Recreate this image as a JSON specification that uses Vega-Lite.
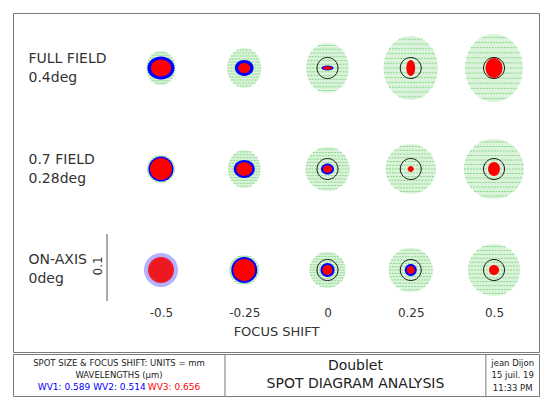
{
  "$schema": "https://vega.github.io/schema/vega-lite/v6.json",
  "padding": {"left": 12, "top": 12, "right": 12, "bottom": 6},
  "background": "white",
  "spacing": 0,
  "config": {
    "view": {"stroke": "#7a7a7a", "strokeWidth": 1},
    "font": "DejaVu Sans",
    "axis": {"grid": false, "domain": false, "ticks": false, "tickSize": 0}
  },
  "datasets": {
    "spots": [
      {"field_idx": 2, "shift": -0.5, "wl": "WV1", "r_um": 25.5, "form": "tall", "density": 1},
      {"field_idx": 2, "shift": -0.5, "wl": "WV2", "r_um": 20.3, "form": "wide", "density": 1},
      {"field_idx": 2, "shift": -0.5, "wl": "WV3", "r_um": 15, "form": "wide", "density": 1},
      {"field_idx": 2, "shift": -0.25, "wl": "WV1", "r_um": 30, "form": "tall", "density": 1},
      {"field_idx": 2, "shift": -0.25, "wl": "WV2", "r_um": 14, "form": "wide", "density": 1},
      {"field_idx": 2, "shift": -0.25, "wl": "WV3", "r_um": 9, "form": "wide", "density": 1},
      {"field_idx": 2, "shift": 0, "wl": "WV1", "r_um": 37.5, "form": "tall", "density": 1},
      {"field_idx": 2, "shift": 0, "wl": "WV2", "r_um": 9, "form": "flat", "density": 1},
      {"field_idx": 2, "shift": 0, "wl": "WV3", "r_um": 6.8, "form": "flat", "density": 1},
      {"field_idx": 2, "shift": 0.25, "wl": "WV1", "r_um": 48, "form": "tall", "density": 1},
      {"field_idx": 2, "shift": 0.25, "wl": "WV3", "r_um": 12, "form": "narrow", "density": 1},
      {"field_idx": 2, "shift": 0.5, "wl": "WV1", "r_um": 51, "form": "tall", "density": 1},
      {"field_idx": 2, "shift": 0.5, "wl": "WV3", "r_um": 15, "form": "tall", "density": 1},
      {"field_idx": 1, "shift": -0.5, "wl": "WV1", "r_um": 21, "form": "round", "density": 1},
      {"field_idx": 1, "shift": -0.5, "wl": "WV2", "r_um": 18.8, "form": "round", "density": 1},
      {"field_idx": 1, "shift": -0.5, "wl": "WV3", "r_um": 16.5, "form": "round", "density": 1},
      {"field_idx": 1, "shift": -0.25, "wl": "WV1", "r_um": 28.5, "form": "tall", "density": 1},
      {"field_idx": 1, "shift": -0.25, "wl": "WV2", "r_um": 15.8, "form": "wide", "density": 1},
      {"field_idx": 1, "shift": -0.25, "wl": "WV3", "r_um": 12, "form": "wide", "density": 1},
      {"field_idx": 1, "shift": 0, "wl": "WV1", "r_um": 33, "form": "round", "density": 1},
      {"field_idx": 1, "shift": 0, "wl": "WV2", "r_um": 9.8, "form": "wide", "density": 1},
      {"field_idx": 1, "shift": 0, "wl": "WV3", "r_um": 6.8, "form": "wide", "density": 1},
      {"field_idx": 1, "shift": 0.25, "wl": "WV1", "r_um": 37.5, "form": "round", "density": 1},
      {"field_idx": 1, "shift": 0.25, "wl": "WV3", "r_um": 4.5, "form": "round", "density": 1},
      {"field_idx": 1, "shift": 0.5, "wl": "WV1", "r_um": 45, "form": "round", "density": 1},
      {"field_idx": 1, "shift": 0.5, "wl": "WV3", "r_um": 10.5, "form": "tall", "density": 1},
      {"field_idx": 0, "shift": -0.5, "wl": "WV1", "r_um": 16.5, "form": "round", "density": 1},
      {"field_idx": 0, "shift": -0.5, "wl": "WV2", "r_um": 25.5, "form": "round", "density": 0.3},
      {"field_idx": 0, "shift": -0.5, "wl": "WV3", "r_um": 19.5, "form": "round", "density": 0.85},
      {"field_idx": 0, "shift": -0.25, "wl": "WV1", "r_um": 22.5, "form": "round", "density": 1},
      {"field_idx": 0, "shift": -0.25, "wl": "WV2", "r_um": 19.5, "form": "round", "density": 1},
      {"field_idx": 0, "shift": -0.25, "wl": "WV3", "r_um": 16.5, "form": "round", "density": 1},
      {"field_idx": 0, "shift": 0, "wl": "WV1", "r_um": 27, "form": "round", "density": 1},
      {"field_idx": 0, "shift": 0, "wl": "WV2", "r_um": 10.5, "form": "round", "density": 1},
      {"field_idx": 0, "shift": 0, "wl": "WV3", "r_um": 7.5, "form": "round", "density": 1},
      {"field_idx": 0, "shift": 0.25, "wl": "WV1", "r_um": 33, "form": "round", "density": 1},
      {"field_idx": 0, "shift": 0.25, "wl": "WV2", "r_um": 9, "form": "round", "density": 1},
      {"field_idx": 0, "shift": 0.25, "wl": "WV3", "r_um": 6, "form": "round", "density": 1},
      {"field_idx": 0, "shift": 0.5, "wl": "WV1", "r_um": 39, "form": "round", "density": 1},
      {"field_idx": 0, "shift": 0.5, "wl": "WV3", "r_um": 7.5, "form": "round", "density": 1}
    ],
    "cells": [
      {"field_idx": 2, "shift": 0}, {"field_idx": 2, "shift": 0.25}, {"field_idx": 2, "shift": 0.5},
      {"field_idx": 1, "shift": 0}, {"field_idx": 1, "shift": 0.25}, {"field_idx": 1, "shift": 0.5},
      {"field_idx": 0, "shift": 0}, {"field_idx": 0, "shift": 0.25}, {"field_idx": 0, "shift": 0.5}
    ],
    "scalebar": [
      {"shift": -0.662, "field_idx": 0.356, "field_idx2": -0.307, "label": "0.1", "label_shift": -0.689, "label_idx": 0.04}
    ],
    "dividers": [{"xpos": 0.403}, {"xpos": 0.899}],
    "labels": [
      {"kind": "note", "cx": 0.2015, "cy": 0.214, "text": "SPOT SIZE & FOCUS SHIFT: UNITS = mm", "wl": "none"},
      {"kind": "note", "cx": 0.2015, "cy": 0.5, "text": "WAVELENGTHS (µm)", "wl": "none"},
      {"kind": "wv", "cx": 0.097, "cy": 0.786, "text": "WV1: 0.589", "wl": "WV1"},
      {"kind": "wv", "cx": 0.2023, "cy": 0.786, "text": "WV2: 0.514", "wl": "WV2"},
      {"kind": "wv", "cx": 0.306, "cy": 0.786, "text": "WV3: 0.656", "wl": "WV3"},
      {"kind": "title", "cx": 0.651, "cy": 0.286, "text": "Doublet", "wl": "none"},
      {"kind": "title", "cx": 0.651, "cy": 0.714, "text": "SPOT DIAGRAM ANALYSIS", "wl": "none"},
      {"kind": "note", "cx": 0.95, "cy": 0.214, "text": "jean Dijon", "wl": "none"},
      {"kind": "note", "cx": 0.95, "cy": 0.5, "text": "15 juil. 19", "wl": "none"},
      {"kind": "note", "cx": 0.95, "cy": 0.81, "text": "11:33 PM", "wl": "none"}
    ]
  },
  "vconcat": [
    {
      "width": 526,
      "height": 339,
      "encoding": {
        "x": {
          "field": "shift", "type": "quantitative",
          "scale": {"domain": [-0.9444, 0.6351], "nice": false, "zero": false},
          "axis": {
            "values": [-0.5, -0.25, 0, 0.25, 0.5],
            "labelExpr": "(datum.value < 0 ? '-' : '') + format(abs(datum.value), '~g')",
            "offset": -45, "labelPadding": 0, "labelFontSize": 12, "labelColor": "#333",
            "labelFlush": false, "labelOverlap": false,
            "title": "FOCUS SHIFT", "titleFontSize": 13, "titleFontWeight": "normal", "titleColor": "#333", "titlePadding": 7
          }
        },
        "y": {
          "field": "field_idx", "type": "quantitative",
          "scale": {"domain": [-0.8119, 2.5446], "nice": false, "zero": false},
          "axis": {
            "values": [0, 1, 2],
            "labelExpr": "datum.value == 2 ? ['FULL FIELD', '0.4deg'] : datum.value == 1 ? ['0.7 FIELD', '0.28deg'] : ['ON-AXIS', '0deg']",
            "offset": -15, "labelAlign": "left", "labelBaseline": "middle", "labelPadding": 0, "labelOffset": -10,
            "labelFontSize": 14, "labelLineHeight": 19, "labelColor": "#333", "labelOverlap": false, "labelFlush": false,
            "title": null
          }
        }
      },
      "layer": [
        {
          "data": {"name": "spots"},
          "transform": [{"filter": "datum.wl == 'WV1'"}],
          "mark": {"type": "point", "filled": true, "color": "#d6f2d6", "opacity": 0.9, "strokeWidth": 0},
          "encoding": {
            "size": {"field": "r_um", "type": "quantitative", "scale": {"type": "pow", "exponent": 2, "domain": [0, 60], "range": [0, 6400]}, "legend": null},
            "shape": {"field": "form", "type": "nominal", "legend": null, "scale": {
              "domain": ["round", "tall", "wide", "narrow", "flat"],
              "range": [
                "M0,-1C0.552,-1 1,-0.552 1,0C1,0.552 0.552,1 0,1C-0.552,1 -1,0.552 -1,0C-1,-0.552 -0.552,-1 0,-1Z",
                "M0,-1C0.469,-1 0.85,-0.552 0.85,0C0.85,0.552 0.469,1 0,1C-0.469,1 -0.85,0.552 -0.85,0C-0.85,-0.552 -0.469,-1 0,-1Z",
                "M0,-0.85C0.552,-0.85 1,-0.469 1,0C1,0.469 0.552,0.85 0,0.85C-0.552,0.85 -1,0.469 -1,0C-1,-0.469 -0.552,-0.85 0,-0.85Z",
                "M0,-1C0.304,-1 0.55,-0.552 0.55,0C0.55,0.552 0.304,1 0,1C-0.304,1 -0.55,0.552 -0.55,0C-0.55,-0.552 -0.304,-1 0,-1Z",
                "M0,-0.4C0.552,-0.4 1,-0.221 1,0C1,0.221 0.552,0.4 0,0.4C-0.552,0.4 -1,0.221 -1,0C-1,-0.221 -0.552,-0.4 0,-0.4Z"
              ]}}
          }
        },
        {
          "data": {"name": "spots"},
          "transform": [{"filter": "datum.wl == 'WV1'"}],
          "mark": {"type": "point", "filled": false, "color": "#78d478", "opacity": 0.8, "strokeWidth": 1, "strokeDash": [2, 1]},
          "encoding": {
            "size": {"field": "r_um", "type": "quantitative", "scale": {"type": "pow", "exponent": 2, "domain": [0, 60], "range": [0, 6400]}, "legend": null},
            "shape": {"field": "form", "type": "nominal", "legend": null, "scale": {
              "domain": ["round", "tall"],
              "range": [
                "M-1,0L1,0M-0.989,-0.15L0.989,-0.15M-0.989,0.15L0.989,0.15M-0.954,-0.3L0.954,-0.3M-0.954,0.3L0.954,0.3M-0.893,-0.45L0.893,-0.45M-0.893,0.45L0.893,0.45M-0.8,-0.6L0.8,-0.6M-0.8,0.6L0.8,0.6M-0.661,-0.75L0.661,-0.75M-0.661,0.75L0.661,0.75M-0.436,-0.9L0.436,-0.9M-0.436,0.9L0.436,0.9",
                "M-0.85,0L0.85,0M-0.841,-0.15L0.841,-0.15M-0.841,0.15L0.841,0.15M-0.811,-0.3L0.811,-0.3M-0.811,0.3L0.811,0.3M-0.759,-0.45L0.759,-0.45M-0.759,0.45L0.759,0.45M-0.68,-0.6L0.68,-0.6M-0.68,0.6L0.68,0.6M-0.562,-0.75L0.562,-0.75M-0.562,0.75L0.562,0.75M-0.371,-0.9L0.371,-0.9M-0.371,0.9L0.371,0.9"
              ]}}
          }
        },
        {
          "data": {"name": "cells"},
          "mark": {"type": "point", "filled": false, "color": "#1a1a1a", "opacity": 1, "strokeWidth": 1, "size": 441,
            "shape": "M0,-1C0.552,-1 1,-0.552 1,0C1,0.552 0.552,1 0,1C-0.552,1 -1,0.552 -1,0C-1,-0.552 -0.552,-1 0,-1Z"},
          "encoding": {}
        },
        {
          "data": {"name": "spots"},
          "transform": [{"filter": "datum.wl != 'WV1'"}],
          "mark": {"type": "point", "filled": true, "strokeWidth": 0},
          "encoding": {
            "size": {"field": "r_um", "type": "quantitative", "scale": {"type": "pow", "exponent": 2, "domain": [0, 60], "range": [0, 6400]}, "legend": null},
            "shape": {"field": "form", "type": "nominal", "legend": null, "scale": {
              "domain": ["round", "tall", "wide", "narrow", "flat"],
              "range": [
                "M0,-1C0.552,-1 1,-0.552 1,0C1,0.552 0.552,1 0,1C-0.552,1 -1,0.552 -1,0C-1,-0.552 -0.552,-1 0,-1Z",
                "M0,-1C0.469,-1 0.85,-0.552 0.85,0C0.85,0.552 0.469,1 0,1C-0.469,1 -0.85,0.552 -0.85,0C-0.85,-0.552 -0.469,-1 0,-1Z",
                "M0,-0.85C0.552,-0.85 1,-0.469 1,0C1,0.469 0.552,0.85 0,0.85C-0.552,0.85 -1,0.469 -1,0C-1,-0.469 -0.552,-0.85 0,-0.85Z",
                "M0,-1C0.304,-1 0.55,-0.552 0.55,0C0.55,0.552 0.304,1 0,1C-0.304,1 -0.55,0.552 -0.55,0C-0.55,-0.552 -0.304,-1 0,-1Z",
                "M0,-0.4C0.552,-0.4 1,-0.221 1,0C1,0.221 0.552,0.4 0,0.4C-0.552,0.4 -1,0.221 -1,0C-1,-0.221 -0.552,-0.4 0,-0.4Z"
              ]}},
            "color": {"field": "wl", "type": "nominal", "scale": {"domain": ["WV2", "WV3"], "range": ["#0000ff", "#ff0000"]}, "legend": null},
            "opacity": {"field": "density", "type": "quantitative", "scale": {"domain": [0, 1], "range": [0, 1]}, "legend": null}
          }
        },
        {
          "data": {"name": "scalebar"},
          "mark": {"type": "rule", "color": "#555", "strokeWidth": 1},
          "encoding": {"y2": {"field": "field_idx2"}}
        },
        {
          "data": {"name": "scalebar"},
          "mark": {"type": "text", "angle": 270, "fontSize": 12, "color": "#333"},
          "encoding": {
            "x": {"field": "label_shift", "type": "quantitative"},
            "y": {"field": "label_idx", "type": "quantitative"},
            "text": {"field": "label"}
          }
        }
      ],
      "resolve": {"scale": {"shape": "independent"}}
    },
    {
      "width": 526,
      "height": 42,
      "layer": [
        {
          "data": {"name": "dividers"},
          "mark": {"type": "rule", "color": "#7a7a7a", "strokeWidth": 1},
          "encoding": {"x": {"field": "xpos", "type": "quantitative", "scale": {"domain": [0, 1], "nice": false, "zero": false}, "axis": null}}
        },
        {
          "data": {"name": "labels"},
          "transform": [{"filter": "datum.kind == 'note'"}],
          "mark": {"type": "text", "fontSize": 8.5, "color": "#222"},
          "encoding": {
            "x": {"field": "cx", "type": "quantitative", "scale": {"domain": [0, 1], "nice": false, "zero": false}, "axis": null},
            "y": {"field": "cy", "type": "quantitative", "scale": {"domain": [0, 1], "nice": false, "reverse": true}, "axis": null},
            "text": {"field": "text"}
          }
        },
        {
          "data": {"name": "labels"},
          "transform": [{"filter": "datum.kind == 'title'"}],
          "mark": {"type": "text", "fontSize": 14, "color": "#222"},
          "encoding": {
            "x": {"field": "cx", "type": "quantitative", "scale": {"domain": [0, 1], "nice": false, "zero": false}, "axis": null},
            "y": {"field": "cy", "type": "quantitative", "scale": {"domain": [0, 1], "nice": false, "reverse": true}, "axis": null},
            "text": {"field": "text"}
          }
        },
        {
          "data": {"name": "labels"},
          "transform": [{"filter": "datum.kind == 'wv'"}],
          "mark": {"type": "text", "fontSize": 9},
          "encoding": {
            "x": {"field": "cx", "type": "quantitative", "scale": {"domain": [0, 1], "nice": false, "zero": false}, "axis": null},
            "y": {"field": "cy", "type": "quantitative", "scale": {"domain": [0, 1], "nice": false, "reverse": true}, "axis": null},
            "text": {"field": "text"},
            "color": {"field": "wl", "type": "nominal", "scale": {"domain": ["WV1", "WV2", "WV3"], "range": ["#1fb01f", "#0000ff", "#ff0000"]}, "legend": null}
          }
        }
      ]
    }
  ]
}
